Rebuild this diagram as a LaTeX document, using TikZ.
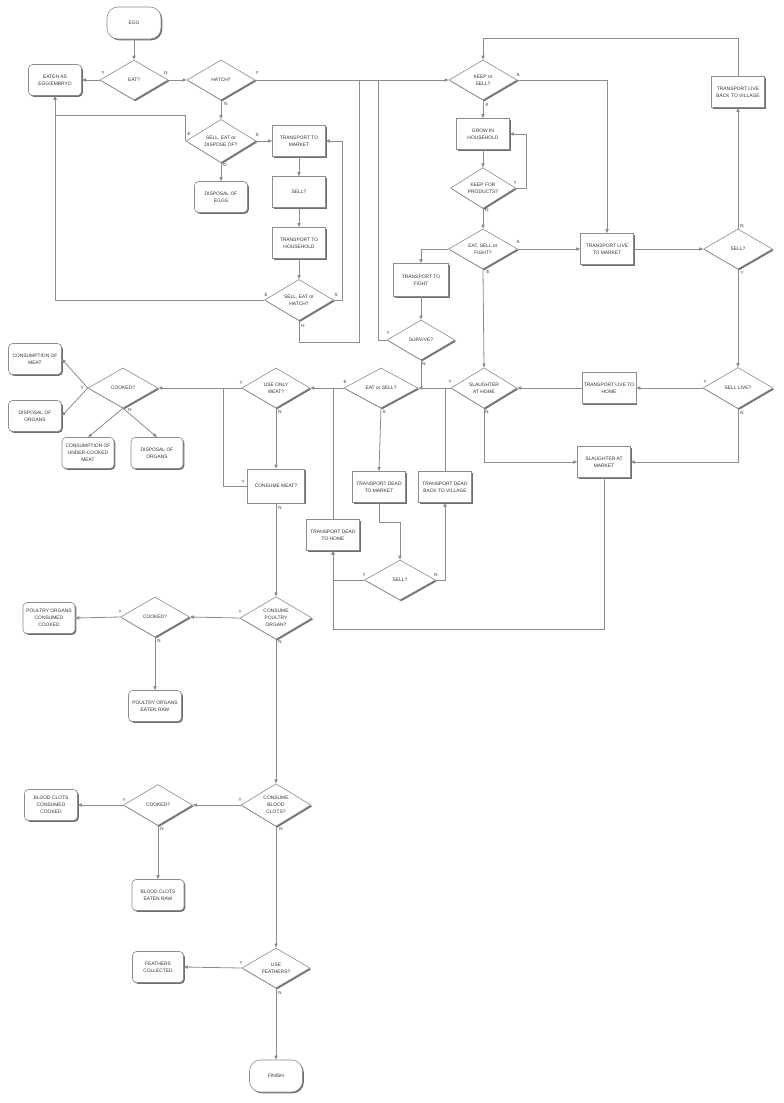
\documentclass[tikz,border=0pt]{standalone}
\usepackage{fontspec}
\setmainfont{Liberation Sans}
\usetikzlibrary{shapes.geometric,shadows,arrows.meta,calc}
\definecolor{edge}{HTML}{8C8C8C}
\definecolor{txt}{HTML}{333333}
\tikzset{
  base/.style={draw=edge, line width=0.6pt, fill=white, text=txt, align=center, inner sep=0pt,
    font=\fontsize{4.9}{7}\selectfont,
    drop shadow={shadow xshift=1.3pt, shadow yshift=-1.3pt, fill=black!75, opacity=0.75}},
  box/.style={base, rectangle, minimum width=53pt, minimum height=31pt},
  rbox/.style={base, rectangle, rounded corners=4pt, minimum width=53pt, minimum height=31pt},
  term/.style={base, rectangle, rounded corners=11pt, minimum width=54pt, minimum height=32pt},
  dec/.style={base, diamond, minimum width=68pt, minimum height=40pt},
  ln/.style={draw=edge, line width=0.8pt},
  arr/.style={ln, -{Triangle[length=4pt,width=3.2pt]}},
  lbl/.style={font=\fontsize{4.5}{5}\selectfont, text=txt, inner sep=0pt}
}
\begin{document}
\begin{tikzpicture}[x=1pt,y=-1pt]
\fill[white] (0,0) rectangle (784,1103);
\useasboundingbox (0,0) rectangle (784,1103);

% nodes
\node[term] (egg) at (134,23) {EGG};
\node[dec] (eat) at (134,80) {EAT?};
\node[rbox] (eaten) at (55,80) {EATEN AS\\EGG/EMBRYO};
\node[dec] (hatch) at (221,80) {HATCH?};
\node[dec, minimum width=70pt] (sedo) at (221,141) {SELL, EAT or\\DISPOSE OF?};
\node[box] (ttm) at (299,141) {TRANSPORT TO\\MARKET};
\node[rbox] (dege) at (221,197) {DISPOSAL OF\\EGGS};
\node[box] (sell1) at (299,192) {SELL?};
\node[box] (tth) at (299,243) {TRANSPORT TO\\HOUSEHOLD};
\node[dec, minimum width=69pt, minimum height=41pt] (seh) at (299,300) {SELL, EAT or\\HATCH?};
\node[dec] (ks) at (483,80) {KEEP or\\SELL?};
\node[box] (grow) at (483,134) {GROW IN\\HOUSEHOLD};
\node[dec, minimum width=65pt, minimum height=38pt] (kfp) at (483,188) {KEEP FOR\\PRODUCTS?};
\node[dec, minimum width=69pt] (esf) at (483,249) {EAT, SELL or\\FIGHT?};
\node[box] (tlm) at (607,249) {TRANSPORT LIVE\\TO MARKET};
\node[dec, minimum width=69pt] (sellr) at (738,249) {SELL?};
\node[box] (tlbv) at (738,92) {TRANSPORT LIVE\\BACK TO VILLAGE};
\node[box, minimum width=55pt, minimum height=33pt] (ttf) at (421,280) {TRANSPORT TO\\FIGHT};
\node[dec] (surv) at (421,340) {SURVIVE?};
\node[dec, minimum width=74pt] (es) at (381,388) {EAT or SELL?};
\node[dec, minimum width=66pt] (sah) at (484,388) {SLAUGHTER\\AT HOME};
\node[box, minimum width=54pt] (tlh) at (609,388) {TRANSPORT LIVE TO\\HOME};
\node[dec, minimum width=70pt, minimum height=41pt] (sl) at (738,388) {SELL LIVE?};
\node[box] (sam) at (604,462) {SLAUGHTER AT\\MARKET};
\node[box] (tdm) at (379,487) {TRANSPORT DEAD\\TO MARKET};
\node[box] (tdbv) at (445,487) {TRANSPORT DEAD\\BACK TO VILLAGE};
\node[dec, minimum width=71pt] (sellb) at (400,580) {SELL?};
\node[box] (tdh) at (333,535) {TRANSPORT DEAD\\TO HOME};
\node[dec] (uom) at (276,388) {USE ONLY\\MEAT?};
\node[box, minimum width=57pt, minimum height=34pt] (cm) at (276,486) {CONSUME MEAT?};
\node[dec, minimum width=70pt] (ck1) at (123,388) {COOKED?};
\node[rbox] (com) at (35,359) {CONSUMPTION OF\\MEAT};
\node[rbox] (do1) at (35,416) {DISPOSAL OF\\ORGANS};
\node[rbox, minimum width=52pt] (cucm) at (88,453) {CONSUMPTION OF\\UNDER-COOKED\\MEAT};
\node[rbox, minimum width=52pt] (do2) at (157,453) {DISPOSAL OF\\ORGANS};
\node[dec, minimum width=72pt, minimum height=42pt] (cpo) at (276,618) {CONSUME\\POULTRY\\ORGAN?};
\node[dec, minimum width=69pt] (ck2) at (155,617) {COOKED?};
\node[rbox, minimum width=52pt] (pocc) at (49,618) {POULTRY ORGANS\\CONSUMED\\COOKED};
\node[rbox] (poer) at (155,706) {POULTRY ORGANS\\EATEN RAW};
\node[dec, minimum width=70pt, minimum height=41pt] (cbc) at (276,805) {CONSUME\\BLOOD\\CLOTS?};
\node[dec, minimum width=69pt, minimum height=41pt] (ck3) at (158,805) {COOKED?};
\node[rbox] (bccc) at (51,805) {BLOOD CLOTS\\CONSUMED\\COOKED};
\node[rbox, minimum width=52pt] (bcer) at (158,895) {BLOOD CLOTS\\EATEN RAW};
\node[dec] (uf) at (276,968) {USE\\FEATHERS?};
\node[rbox, minimum width=51pt] (fc) at (158,967) {FEATHERS\\COLLECTED};
\node[term, minimum width=53pt] (fin) at (276,1076) {FINISH};

% junction points
\coordinate (jh) at (359,80);
\coordinate (js) at (378,80);
\coordinate (jc) at (223,388);

% connectors
\draw[arr] (egg) -- (eat.north);
\draw[arr] (eat.west) -- (eaten.east);
\draw[arr] (eat.east) -- (hatch.west);
\draw[arr] (hatch.south) -- (sedo.north);
\draw[arr] (sedo.east) -- (ttm.west);
\draw[arr] (sedo.west) -- ++(0,-26) -| (eaten.south);
\draw[arr] (sedo.south) -- (dege.north);
\draw[arr] (ttm) -- (sell1);
\draw[arr] (sell1) -- (tth);
\draw[arr] (tth) -- (seh.north);
\draw[arr] (seh.west) -| (eaten.south);
\draw[arr] (seh.east) -- ++(9,0) |- (ttm.east);
\draw[ln] (seh.south) -- ++(0,22) -| (jh);
\draw[arr] (hatch.east) -- (ks.west);
\draw[ln] (surv.west) -| (js);
\draw[arr] (tlbv.north) -- ++(0,-38) -| (ks.north);
\draw[arr] (ks.east) -| (tlm.north);
\draw[arr] (ks.south) -- (grow.north);
\draw[arr] (grow) -- (kfp.north);
\draw[arr] (kfp.east) -- ++(11,0) |- (grow.east);
\draw[arr] (kfp.south) -- (esf.north);
\draw[arr] (esf.east) -- (tlm.west);
\draw[arr] (tlm.east) -- (sellr.west);
\draw[arr] (sellr.north) -- (tlbv.south);
\draw[arr] (sellr.south) -- (sl.north);
\draw[arr] (esf.west) -| (ttf.north);
\draw[arr] (esf.south) -- (sah.north);
\draw[arr] (ttf) -- (surv.north);
\draw[ln] (surv.south) -- (surv.south |- es.east);
\draw[arr] (sah.west) -- (es.east);
\draw[arr] (tlh.west) -- (sah.east);
\draw[arr] (sl.west) -- (tlh.east);
\draw[arr] (sah.south) |- (sam.west);
\draw[arr] (sl.south) |- (sam.east);
\draw[arr] (sam.south) -- ++(0,152) -| (tdh.south);
\draw[arr] (es.south) -- (tdm.north);
\draw[arr] (tdm.south) -- ++(0,20) -| (sellb.north);
\draw[arr] (sellb.east) -| (tdbv.south);
\draw[arr] (sellb.west) -| (tdh.south);
\draw[ln] (tdbv.north) -- (tdbv.north |- sah.west);
\draw[arr] (es.west) -- (uom.east);
\draw[ln] (tdh.north) -- (tdh.north |- es.west);
\draw[arr] (uom.west) -- (ck1.east);
\draw[ln] (cm.west) -| (jc);
\draw[arr] (uom.south) -- (cm.north);
\draw[arr] (cm.south) -- (cpo.north);
\draw[arr] (ck1.west) -- (com.east);
\draw[arr] (ck1.west) -- (do1.east);
\draw[arr] (ck1.south) -- (cucm.north);
\draw[arr] (ck1.south) -- (do2.north);
\draw[arr] (cpo.west) -- (ck2.east);
\draw[arr] (ck2.west) -- (pocc.east);
\draw[arr] (ck2.south) -- (poer.north);
\draw[arr] (cpo.south) -- (cbc.north);
\draw[arr] (cbc.west) -- (ck3.east);
\draw[arr] (ck3.west) -- (bccc.east);
\draw[arr] (ck3.south) -- (bcer.north);
\draw[arr] (cbc.south) -- (uf.north);
\draw[arr] (uf.west) -- (fc.east);
\draw[arr] (uf.south) -- (fin.north);

% branch labels
\node[lbl] (l1) at (103,73) {Y};
\node[lbl] (l2) at (166,73) {N};
\node[lbl] (l3) at (257,73) {Y};
\node[lbl] (l4) at (226,104) {N};
\node[lbl] (l5) at (189,134) {E};
\node[lbl] (l6) at (257,135) {S};
\node[lbl] (l7) at (225,165) {D};
\node[lbl] (l8) at (266,295) {E};
\node[lbl] (l9) at (336,295) {S};
\node[lbl] (l10) at (303,326) {H};
\node[lbl] (l11) at (518,75) {S};
\node[lbl] (l12) at (487,105) {K};
\node[lbl] (l13) at (515,183) {Y};
\node[lbl] (l14) at (487,210) {N};
\node[lbl] (l15) at (518,242) {S};
\node[lbl] (l16) at (488,272) {E};
\node[lbl] (l17) at (742,226) {N};
\node[lbl] (l18) at (742,273) {Y};
\node[lbl] (l19) at (388,333) {Y};
\node[lbl] (l20) at (424,364) {N};
\node[lbl] (l21) at (345,382) {E};
\node[lbl] (l22) at (384,412) {S};
\node[lbl] (l23) at (450,382) {Y};
\node[lbl] (l24) at (487,412) {N};
\node[lbl] (l25) at (705,382) {Y};
\node[lbl] (l26) at (742,413) {N};
\node[lbl] (l27) at (364,575) {Y};
\node[lbl] (l28) at (436,575) {N};
\node[lbl] (l29) at (241,383) {Y};
\node[lbl] (l30) at (280,412) {N};
\node[lbl] (l31) at (243,482) {Y};
\node[lbl] (l32) at (280,508) {N};
\node[lbl] (l33) at (82,388) {Y};
\node[lbl] (l34) at (130,410) {N};
\node[lbl] (l35) at (240,612) {Y};
\node[lbl] (l36) at (280,642) {N};
\node[lbl] (l37) at (120,612) {Y};
\node[lbl] (l38) at (159,641) {N};
\node[lbl] (l39) at (240,800) {Y};
\node[lbl] (l40) at (281,829) {N};
\node[lbl] (l41) at (124,800) {Y};
\node[lbl] (l42) at (162,829) {N};
\node[lbl] (l43) at (241,963) {Y};
\node[lbl] (l44) at (280,993) {N};
\end{tikzpicture}
\end{document}
